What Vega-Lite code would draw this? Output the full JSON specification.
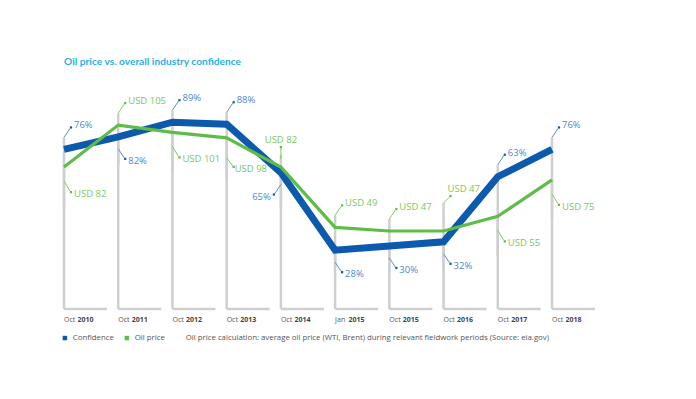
{
  "$schema": "https://vega.github.io/schema/vega-lite/v6.json",
  "width": 488,
  "height": 399,
  "autosize": "none",
  "padding": {"left": 64, "right": 144, "top": 0, "bottom": 0},
  "background": "white",
  "config": {"view": {"stroke": null}, "font": "Open Sans"},
  "title": {"text": "Oil price vs. overall industry confidence", "anchor": "start", "frame": "group", "dy": 71, "fontSize": 10.2, "fontWeight": "bold", "color": "#2aaee8", "font": "Lato"},
  "datasets": {
    "periods": [
      {"period": "Oct 2010", "month": "Oct", "year": "2010"},
      {"period": "Oct 2011", "month": "Oct", "year": "2011"},
      {"period": "Oct 2012", "month": "Oct", "year": "2012"},
      {"period": "Oct 2013", "month": "Oct", "year": "2013"},
      {"period": "Oct 2014", "month": "Oct", "year": "2014"},
      {"period": "Jan 2015", "month": "Jan", "year": "2015"},
      {"period": "Oct 2015", "month": "Oct", "year": "2015"},
      {"period": "Oct 2016", "month": "Oct", "year": "2016"},
      {"period": "Oct 2017", "month": "Oct", "year": "2017"},
      {"period": "Oct 2018", "month": "Oct", "year": "2018"}
    ],
    "pts": [
      {"period": "Oct 2010", "series": "Confidence", "value": 76, "label": "76%", "side": "above"},
      {"period": "Oct 2011", "series": "Confidence", "value": 82, "label": "82%", "side": "below"},
      {"period": "Oct 2012", "series": "Confidence", "value": 89, "label": "89%", "side": "above"},
      {"period": "Oct 2013", "series": "Confidence", "value": 88, "label": "88%", "side": "above"},
      {"period": "Oct 2014", "series": "Confidence", "value": 65, "label": "65%", "side": "left"},
      {"period": "Jan 2015", "series": "Confidence", "value": 28, "label": "28%", "side": "below"},
      {"period": "Oct 2015", "series": "Confidence", "value": 30, "label": "30%", "side": "below"},
      {"period": "Oct 2016", "series": "Confidence", "value": 32, "label": "32%", "side": "below"},
      {"period": "Oct 2017", "series": "Confidence", "value": 63, "label": "63%", "side": "above"},
      {"period": "Oct 2018", "series": "Confidence", "value": 76, "label": "76%", "side": "above"},
      {"period": "Oct 2010", "series": "Oil price", "value": 82, "label": "USD 82", "side": "below"},
      {"period": "Oct 2011", "series": "Oil price", "value": 105, "label": "USD 105", "side": "above"},
      {"period": "Oct 2012", "series": "Oil price", "value": 101, "label": "USD 101", "side": "below"},
      {"period": "Oct 2013", "series": "Oil price", "value": 98, "label": "USD 98", "side": "low"},
      {"period": "Oct 2014", "series": "Oil price", "value": 82, "label": "USD 82", "side": "top"},
      {"period": "Jan 2015", "series": "Oil price", "value": 49, "label": "USD 49", "side": "above"},
      {"period": "Oct 2015", "series": "Oil price", "value": 47, "label": "USD 47", "side": "above"},
      {"period": "Oct 2016", "series": "Oil price", "value": 47, "label": "USD 47", "side": "high"},
      {"period": "Oct 2017", "series": "Oil price", "value": 55, "label": "USD 55", "side": "below"},
      {"period": "Oct 2018", "series": "Oil price", "value": 75, "label": "USD 75", "side": "below"}
    ]
  },
  "layer": [
    {
      "data": {"name": "pts"},
      "transform": [{"filter": "datum.series === 'Confidence'"}],
      "mark": {"type": "rule", "color": "#cfcfcf", "strokeWidth": 2.5, "yOffset": {"expr": "datum.side === 'above' || datum.side === 'top' ? -12 : 0"}},
      "encoding": {
        "x": {"field": "period", "type": "ordinal", "scale": {"type": "point", "padding": 0, "domain": ["Oct 2010","Oct 2011","Oct 2012","Oct 2013","Oct 2014","Jan 2015","Oct 2015","Oct 2016","Oct 2017","Oct 2018"]}, "axis": null},
        "y": {"field": "value", "type": "quantitative", "scale": {"domain": [-42.9, 147.2], "nice": false, "zero": false}, "axis": null},
        "y2": {"datum": 0}
      }
    },
    {
      "data": {"name": "pts"},
      "transform": [{"filter": "datum.series === 'Oil price'"}],
      "mark": {"type": "rule", "color": "#cfcfcf", "strokeWidth": 2.5, "yOffset": {"expr": "datum.side === 'above' || datum.side === 'top' ? -12 : datum.side === 'high' ? -28 : 0"}, "y2Offset": 40},
      "encoding": {
        "x": {"field": "period", "type": "ordinal", "axis": null},
        "y": {"field": "value", "type": "quantitative", "scale": {"domain": [-45.0, 173.5], "nice": false, "zero": false}, "axis": null},
        "y2": {"field": "value"}
      }
    },
    {
      "data": {"name": "periods"},
      "mark": {"type": "rule", "color": "#cfcfcf", "strokeWidth": 2.5, "x2Offset": 43},
      "encoding": {
        "x": {"field": "period", "type": "ordinal", "axis": null},
        "x2": {"field": "period"},
        "y": {"datum": 0, "type": "quantitative", "scale": {"domain": [-42.9, 147.2], "nice": false, "zero": false}, "axis": null}
      }
    },
    {
      "data": {"name": "periods"},
      "mark": {"type": "text", "align": "left", "baseline": "middle", "dy": 11, "fontSize": 7, "color": "#555555"},
      "encoding": {
        "x": {"field": "period", "type": "ordinal", "axis": null},
        "y": {"datum": 0, "type": "quantitative", "scale": {"domain": [-42.9, 147.2], "nice": false, "zero": false}, "axis": null},
        "text": {"field": "month"}
      }
    },
    {
      "data": {"name": "periods"},
      "mark": {"type": "text", "align": "left", "baseline": "middle", "dy": 11, "dx": 13.5, "fontSize": 7, "fontWeight": "bold", "color": "#444444"},
      "encoding": {
        "x": {"field": "period", "type": "ordinal", "axis": null},
        "y": {"datum": 0, "type": "quantitative", "scale": {"domain": [-42.9, 147.2], "nice": false, "zero": false}, "axis": null},
        "text": {"field": "year"}
      }
    },
    {
      "data": {"name": "pts"},
      "transform": [{"filter": "datum.series === 'Confidence'"}],
      "mark": {"type": "line", "color": "#0c5aad", "strokeWidth": 7, "strokeJoin": "miter"},
      "encoding": {
        "x": {"field": "period", "type": "ordinal", "axis": null},
        "y": {"field": "value", "type": "quantitative", "scale": {"domain": [-42.9, 147.2], "nice": false, "zero": false}, "axis": null}
      }
    },
    {
      "data": {"name": "pts"},
      "transform": [{"filter": "datum.series === 'Oil price'"}],
      "mark": {"type": "line", "color": "#5dbd47", "strokeWidth": 3.2, "strokeJoin": "miter"},
      "encoding": {
        "x": {"field": "period", "type": "ordinal", "axis": null},
        "y": {"field": "value", "type": "quantitative", "scale": {"domain": [-45.0, 173.5], "nice": false, "zero": false}, "axis": null}
      }
    },
    {
      "data": {"name": "pts"},
      "transform": [{"filter": "datum.series === 'Confidence'"}],
      "mark": {"type": "rule", "color": "#5a8fd0", "strokeWidth": 1,
        "yOffset": {"expr": "datum.side === 'above' ? -12 : datum.side === 'top' ? -8 : 12"},
        "y2Offset": {"expr": "datum.side === 'above' ? -21 : datum.side === 'top' ? -19 : 21"},
        "x2Offset": {"expr": "datum.side === 'left' ? -6 : datum.side === 'top' ? 0 : 6"}},
      "encoding": {
        "x": {"field": "period", "type": "ordinal", "axis": null},
        "x2": {"field": "period"},
        "y": {"field": "value", "type": "quantitative", "scale": {"domain": [-42.9, 147.2], "nice": false, "zero": false}, "axis": null},
        "y2": {"field": "value"}
      }
    },
    {
      "data": {"name": "pts"},
      "transform": [{"filter": "datum.series === 'Confidence'"}],
      "mark": {"type": "point", "filled": true, "shape": "square", "size": 5, "opacity": 1,
        "xOffset": {"expr": "datum.side === 'left' ? -7 : datum.side === 'top' ? 0 : 7"},
        "yOffset": {"expr": "datum.side === 'above' ? -22 : datum.side === 'top' ? -20 : 22"}},
      "encoding": {
        "x": {"field": "period", "type": "ordinal", "axis": null},
        "y": {"field": "value", "type": "quantitative", "scale": {"domain": [-42.9, 147.2], "nice": false, "zero": false}, "axis": null},
        "color": {"field": "series", "type": "nominal",
          "scale": {"domain": ["Confidence", "Oil price", "Oil price calculation: average oil price (WTI, Brent) during relevant fieldwork periods (Source: eia.gov)"], "range": ["#0c5aad", "#5dbd47", "#ffffff"]},
          "legend": {"orient": "none", "legendX": -3, "legendY": 334, "direction": "horizontal", "title": null, "symbolType": "square", "symbolSize": 20, "symbolStrokeWidth": 0, "labelFontSize": 7.8, "labelColor": "#555555", "labelLimit": 600, "columnPadding": 9, "labelOffset": 4}}
      }
    },
    {
      "data": {"name": "pts"},
      "transform": [{"filter": "datum.series === 'Confidence'"}],
      "mark": {"type": "text", "baseline": "middle", "fontSize": 9.5, "color": "#4f86cc",
        "align": {"expr": "datum.side === 'left' ? 'right' : datum.side === 'top' ? 'center' : 'left'"},
        "dx": {"expr": "datum.side === 'left' ? -10 : datum.side === 'top' ? 0 : 10"},
        "dy": {"expr": "datum.side === 'above' ? -24 : datum.side === 'top' ? -27 : 24"}},
      "encoding": {
        "x": {"field": "period", "type": "ordinal", "axis": null},
        "y": {"field": "value", "type": "quantitative", "scale": {"domain": [-42.9, 147.2], "nice": false, "zero": false}, "axis": null},
        "text": {"field": "label"}
      }
    },
    {
      "data": {"name": "pts"},
      "transform": [{"filter": "datum.series === 'Oil price'"}],
      "mark": {"type": "rule", "color": "#7fcb68", "strokeWidth": 1,
        "yOffset": {"expr": "datum.side === 'above' ? -12 : datum.side === 'top' ? -8 : datum.side === 'high' ? -28 : datum.side === 'low' ? 20 : 14"},
        "y2Offset": {"expr": "datum.side === 'above' ? -21 : datum.side === 'top' ? -19 : datum.side === 'high' ? -34 : datum.side === 'low' ? 28 : 24"},
        "x2Offset": {"expr": "datum.side === 'left' ? -6 : datum.side === 'top' ? 0 : 6"}},
      "encoding": {
        "x": {"field": "period", "type": "ordinal", "axis": null},
        "x2": {"field": "period"},
        "y": {"field": "value", "type": "quantitative", "scale": {"domain": [-45.0, 173.5], "nice": false, "zero": false}, "axis": null},
        "y2": {"field": "value"}
      }
    },
    {
      "data": {"name": "pts"},
      "transform": [{"filter": "datum.series === 'Oil price'"}],
      "mark": {"type": "point", "filled": true, "shape": "square", "size": 5, "opacity": 1,
        "xOffset": {"expr": "datum.side === 'left' ? -7 : datum.side === 'top' ? 0 : 7"},
        "yOffset": {"expr": "datum.side === 'above' ? -22 : datum.side === 'top' ? -20 : datum.side === 'high' ? -35 : datum.side === 'low' ? 29 : 25"}},
      "encoding": {
        "x": {"field": "period", "type": "ordinal", "axis": null},
        "y": {"field": "value", "type": "quantitative", "scale": {"domain": [-45.0, 173.5], "nice": false, "zero": false}, "axis": null},
        "color": {"field": "series", "type": "nominal"}
      }
    },
    {
      "data": {"name": "pts"},
      "transform": [{"filter": "datum.series === 'Oil price'"}],
      "mark": {"type": "text", "baseline": "middle", "fontSize": 9.5, "color": "#78c862",
        "align": {"expr": "datum.side === 'left' ? 'right' : datum.side === 'top' ? 'center' : 'left'"},
        "dx": {"expr": "datum.side === 'left' ? -10 : datum.side === 'top' ? 0 : datum.side === 'high' ? 4 : datum.side === 'low' ? 8 : 10"},
        "dy": {"expr": "datum.side === 'above' ? -24 : datum.side === 'top' ? -27 : datum.side === 'high' ? -42 : datum.side === 'low' ? 31 : 27"}},
      "encoding": {
        "x": {"field": "period", "type": "ordinal", "axis": null},
        "y": {"field": "value", "type": "quantitative", "scale": {"domain": [-45.0, 173.5], "nice": false, "zero": false}, "axis": null},
        "text": {"field": "label"}
      }
    }
  ],
  "resolve": {"scale": {"y": "independent"}}
}
